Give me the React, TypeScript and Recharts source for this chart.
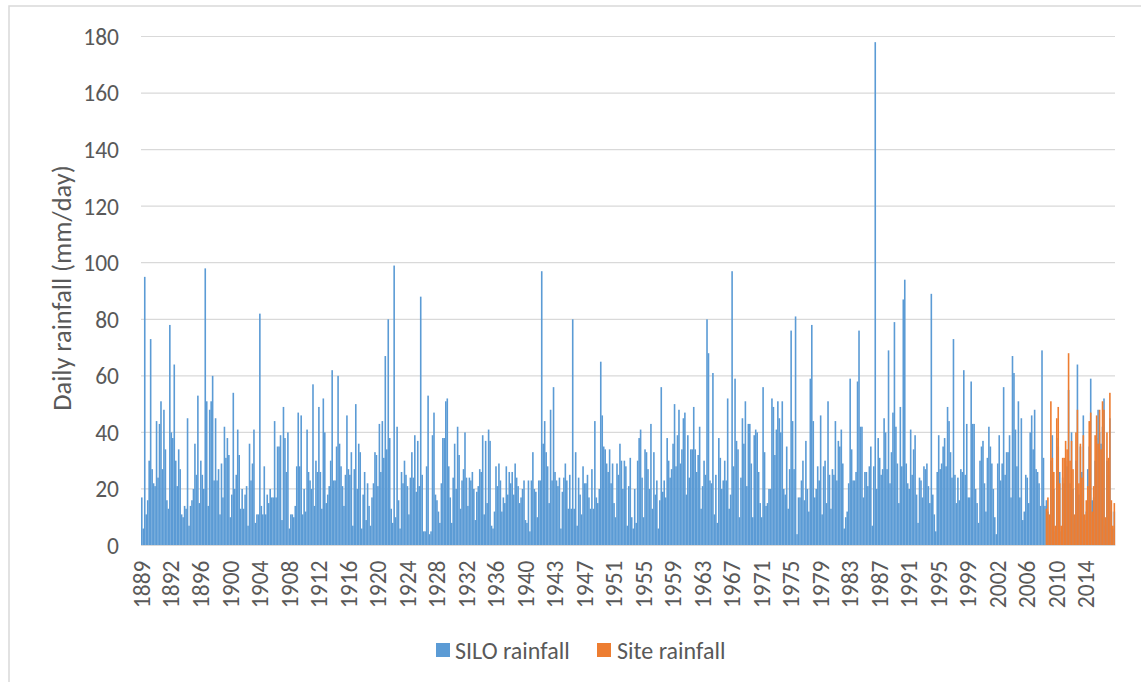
import { Bar, BarChart, CartesianGrid, XAxis, YAxis } from 'recharts';

const BLUE = '#5B9BD5';
const ORANGE = '#ED7D31';
const TEXT = '#595959';
const GRID = '#d9d9d9';
const FONT = "Calibri, Carlito, 'Liberation Sans', Arial, sans-serif";

// one label every 20 time slots
const TICK_EVERY = 20;
const TICK_LABELS = [
  '1889', '1892', '1896', '1900', '1904', '1908', '1912', '1916', '1920', '1924', '1928',
  '1932', '1936', '1940', '1943', '1947', '1951', '1955', '1959', '1963', '1967', '1971',
  '1975', '1979', '1983', '1987', '1991', '1995', '1999', '2002', '2006', '2010', '2014',
];
const Y_TICKS = [0, 20, 40, 60, 80, 100, 120, 140, 160, 180];

// SILO daily rainfall, peak per slot (mm/day)
const SILO_PART1 = [
  17, 6, 95, 11, 16, 30, 73, 27, 22, 21, 44, 24, 43, 51, 27, 48, 34, 16, 13, 78,
  40, 38, 64, 30, 21, 34, 27, 11, 10, 14, 13, 45, 7, 14, 16, 20, 36, 25, 53, 15,
  30, 25, 20, 98, 51, 14, 48, 51, 60, 23, 45, 23, 27, 11, 29, 17, 42, 31, 38, 32,
  10, 18, 54, 20, 25, 41, 32, 13, 20, 13, 18, 21, 7, 36, 23, 29, 41, 8, 11, 11,
  82, 14, 11, 28, 11, 18, 15, 20, 17, 17, 44, 17, 35, 35, 39, 9, 49, 38, 26, 40,
  6, 11, 11, 10, 14, 28, 47, 28, 46, 11, 20,
];
const SILO_PART2 = [
  12, 41, 26, 23, 20, 57, 14, 30, 26, 49, 26, 13, 52, 40, 15, 18, 21, 30, 62, 23,
  23, 35, 60, 36, 28, 21, 14, 25, 46, 27, 25, 33, 7, 27, 50, 20, 36, 33, 6, 18,
  26, 9, 22, 14, 7, 17, 22, 33, 32, 21, 43, 26, 44, 31, 67, 34, 80, 38, 13, 8,
  99, 10, 42, 16, 6, 26, 22, 30, 25, 21, 11, 24, 33, 24, 39, 19, 37, 21, 88, 25,
  5, 5, 28, 53, 4, 5, 39, 47, 18, 16, 12, 8, 22, 38, 38, 51, 52, 28, 17, 8,
  24, 36, 20, 42, 32, 13, 23, 27, 40, 24, 14, 24,
];
const SILO_PART3 = [
  23, 26, 20, 9, 19, 21, 27, 26, 39, 11, 37, 15, 41, 37, 7, 6, 12, 28, 21, 29,
  23, 12, 17, 15, 28, 18, 26, 22, 26, 18, 29, 24, 21, 15, 17, 20, 23, 9, 8, 23,
  5, 23, 33, 20, 19, 10, 23, 23, 97, 36, 44, 33, 28, 15, 48, 23, 56, 26, 23, 21,
  24, 6, 19, 24, 29, 23, 13, 25, 13, 80, 13, 33, 7, 24, 18, 11, 28, 22, 22, 25,
  17, 13, 27, 13, 44, 17, 15, 20, 65, 46, 35, 34, 29, 26, 34, 22, 29, 15, 10, 29,
  25, 36, 30, 20, 30, 28, 7, 21, 31, 10, 6, 20,
];
const SILO_PART4 = [
  8, 30, 38, 41, 24, 10, 34, 33, 27, 20, 43, 13, 33, 18, 23, 6, 16, 56, 19, 23,
  17, 38, 30, 24, 27, 36, 50, 28, 39, 48, 29, 34, 45, 47, 18, 39, 24, 34, 34, 49,
  34, 26, 32, 42, 13, 21, 30, 25, 80, 68, 23, 22, 61, 11, 25, 8, 38, 31, 20, 23,
  30, 23, 52, 13, 18, 97, 28, 59, 37, 34, 10, 24, 45, 36, 51, 21, 43, 43, 29, 10,
  39, 41, 40, 26, 15, 10, 56, 33, 14, 15, 20, 20, 52, 49, 32, 41, 51, 45, 40, 51,
  20, 18, 35, 13, 27, 76, 44, 27, 81, 4, 17, 17,
];
const SILO_PART5 = [
  23, 30, 16, 37, 20, 12, 59, 78, 44, 17, 20, 28, 23, 46, 11, 28, 30, 15, 51, 25,
  13, 27, 25, 44, 23, 37, 35, 41, 29, 6, 10, 12, 22, 59, 34, 23, 23, 26, 58, 76,
  42, 42, 17, 26, 26, 21, 28, 35, 7, 28, 178, 20, 38, 31, 25, 27, 45, 40, 27, 69,
  22, 33, 47, 79, 42, 29, 15, 49, 28, 87, 94, 29, 22, 20, 41, 25, 34, 39, 18, 8,
  24, 23, 17, 28, 27, 29, 21, 15, 89, 18, 11, 5, 26, 39, 27, 29, 35, 38, 28, 49,
  44, 33, 24, 73, 25, 15, 24, 16, 27, 26, 62,
];
const SILO_PART6 = [
  25, 43, 17, 17, 58, 43, 43, 20, 15, 8, 30, 35, 37, 22, 12, 31, 42, 35, 29, 20,
  10, 4, 29, 39, 23, 29, 56, 25, 33, 33, 39, 17, 67, 61, 41, 28, 51, 17, 45, 9,
  12, 25, 24, 15, 40, 46, 34, 48, 27, 26, 22, 14, 69, 31, 14,
];
// SILO over the years that also have site records
const SILO_PART7 = [
  16, 12, 9, 30, 39, 20, 5, 38, 35, 26, 5, 24, 22, 30, 28, 55, 22, 40, 20, 8,
  30, 64, 18, 35, 26, 46, 9, 12, 27, 35, 59, 16, 17, 30, 38, 48, 40, 36, 42, 52,
  7, 30, 25, 45, 12, 6, 12,
];
const SITE = [
  13, 17, 11, 51, 31, 26, 7, 45, 49, 22, 7, 31, 31, 37, 34, 68, 30, 37, 27, 11,
  40, 48, 22, 36, 24, 39, 11, 16, 21, 44, 47, 12, 21, 39, 46, 36, 48, 34, 51, 48,
  10, 40, 31, 54, 16, 7, 15,
];

const SILO = [
  ...SILO_PART1, ...SILO_PART2, ...SILO_PART3, ...SILO_PART4,
  ...SILO_PART5, ...SILO_PART6, ...SILO_PART7,
];
const SITE_START = SILO.length - SITE.length;

const data = SILO.map((silo, i) => ({
  name: i % TICK_EVERY === 0 ? TICK_LABELS[i / TICK_EVERY] : `d${i}`,
  silo,
  site: i >= SITE_START ? SITE[i - SITE_START] : null,
}));

// bands are ~1.48px wide, recharts floors the bar to 1px, so close the gap
const SolidBar = (props: any) => {
  const { x, y, width, height, fill } = props;
  if (!height || height <= 0) return null;
  return <rect x={x} y={y} width={width + 0.6} height={height} fill={fill} />;
};

const YearTick = ({ x, y, payload }: any) => (
  <text
    x={x}
    y={y}
    transform={`rotate(-90 ${x} ${y})`}
    textAnchor="end"
    dy="0.35em"
    fill={TEXT}
    fontSize={23.5}
    fontFamily={FONT}
  >
    {payload.value}
  </text>
);

export default function App() {
  return (
    <div style={{ position: 'absolute', left: 0, top: 0, width: 1141, height: 682, background: '#fff' }}>
      <BarChart
        width={1141}
        height={682}
        data={data}
        margin={{ top: 36.5, right: 26, bottom: 0, left: 0 }}
        barCategoryGap={0}
        barGap={0}
      >
        <CartesianGrid vertical={false} stroke={GRID} strokeWidth={1.2} />
        <XAxis
          dataKey="name"
          interval={TICK_EVERY - 1}
          height={136.5}
          tickLine={false}
          tickMargin={9}
          axisLine={{ stroke: GRID, strokeWidth: 1.2 }}
          tick={<YearTick />}
        />
        <XAxis xAxisId="site" dataKey="name" hide />
        <YAxis
          type="number"
          domain={[0, 180]}
          ticks={Y_TICKS}
          width={141}
          axisLine={false}
          tickLine={false}
          tickMargin={16}
          tick={{ fill: TEXT, fontSize: 23.5, fontFamily: FONT }}
        />
        <Bar dataKey="silo" name="SILO rainfall" fill={BLUE} shape={SolidBar} isAnimationActive={false} />
        <Bar
          dataKey="site"
          name="Site rainfall"
          xAxisId="site"
          fill={ORANGE}
          shape={SolidBar}
          isAnimationActive={false}
        />
      </BarChart>
      <svg
        width={1141}
        height={682}
        style={{ position: 'absolute', left: 0, top: 0, pointerEvents: 'none' }}
        fontFamily={FONT}
      >
        <rect x={9} y={6} width={1200} height={800} fill="none" stroke={GRID} strokeWidth={1.5} />
        <text
          x={62}
          y={288}
          transform="rotate(-90 62 288)"
          textAnchor="middle"
          dominantBaseline="central"
          fontSize={26.5}
          fill={TEXT}
        >
          Daily rainfall (mm/day)
        </text>
        <rect x={436} y={643} width={14} height={14} fill={BLUE} />
        <text x={455} y={650} dominantBaseline="central" fontSize={24} fill={TEXT}>
          SILO rainfall
        </text>
        <rect x={597} y={643} width={14} height={14} fill={ORANGE} />
        <text x={617} y={650} dominantBaseline="central" fontSize={24} fill={TEXT}>
          Site rainfall
        </text>
      </svg>
    </div>
  );
}
